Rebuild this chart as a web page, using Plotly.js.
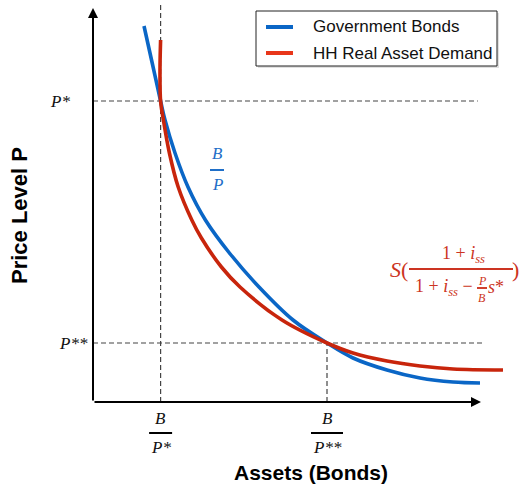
<!DOCTYPE html>
<html>
<head>
<meta charset="utf-8">
<script src="https://cdn.plot.ly/plotly-3.0.1.min.js"></script>
<style>
  html, body { margin: 0; padding: 0; background: #fff; }
  #chart { width: 521px; height: 484px; }
</style>
</head>
<body>
<div id="chart"></div>
<script>
// Government bond supply B/P against the price level
const bondsAssets = [1.275, 1.48, 1.69, 1.80, 2.05, 2.375, 2.81, 3.41, 4.15, 5.00, 5.85, 6.50, 7.35, 8.175, 9.00, 9.675];
const bondsPrice  = [9.40, 8.475, 7.525, 7.05, 6.225, 5.375, 4.55, 3.725, 2.875, 2.05, 1.475, 1.10, 0.80, 0.60, 0.50, 0.475];

// Household real asset demand
const demandAssets = [1.69, 1.675, 1.69, 1.76, 1.91, 2.13, 2.47, 2.71, 3.21, 3.675, 4.725, 5.85, 6.50, 7.35, 8.175, 9.00, 10.25];
const demandPrice  = [9.05, 8.30, 7.525, 7.05, 6.225, 5.375, 4.55, 4.10, 3.375, 2.875, 2.05, 1.475, 1.225, 1.025, 0.90, 0.825, 0.80];

const seriesNames = ['Government Bonds', 'HH Real Asset Demand'];

// Equilibria: price levels and the matching real bond holdings B/P
const priceLevels = [7.525, 1.475];
const priceLabels = ['P*', 'P**'];
const assetLevels = [1.69, 5.85];
const assetDenoms = ['P*', 'P**'];

const SANS  = '"Liberation Sans", Arial, Helvetica, sans-serif';
const SERIF = '"Liberation Serif", "Times New Roman", Times, serif';
const BLUE = '#0a66c6';
const RED  = '#c8250c';
const BLUE_TXT = '#1f6fc8';
const RED_TXT  = '#cc3422';
const GUIDE = '#444444';

// plot frame in pixels (40 px per data unit on both axes)
const W = 521, H = 484, UNIT = 40;
const M = {l: 93, r: 5, t: 5, b: 82};
const pw = W - M.l - M.r, ph = H - M.t - M.b;
const XMAX = pw / UNIT, YMAX = ph / UNIT;
const px = p => (p - M.l) / pw;            // pixel column -> paper x
const py = p => (H - M.b - p) / ph;        // pixel row -> paper y
const du = p => p / UNIT;                  // pixel length -> data length
const dx = p => (p - M.l) / UNIT;          // pixel column -> data x
const dy = p => (H - M.b - p) / UNIT;      // pixel row -> data y

const traces = [
  {x: bondsAssets, y: bondsPrice, name: seriesNames[0], mode: 'lines',
   line: {color: BLUE, width: 3.6, shape: 'spline', smoothing: 1}},
  {x: demandAssets, y: demandPrice, name: seriesNames[1], mode: 'lines',
   line: {color: RED, width: 3.6, shape: 'spline', smoothing: 1}}
];

const shapes = [];
const annotations = [];
const dash = '5px,3px';

// dashed guides at the equilibria
const hEnds = [9.62, 9.75];
priceLevels.forEach((p, i) => {
  shapes.push({type: 'line', xref: 'x', yref: 'y', x0: 0, x1: hEnds[i], y0: p, y1: p,
               line: {color: GUIDE, width: 1.2, dash: dash}, layer: 'below'});
});
shapes.push({type: 'line', xref: 'x', yref: 'y', x0: assetLevels[0], x1: assetLevels[0], y0: 0, y1: YMAX,
             line: {color: GUIDE, width: 1.2, dash: dash}, layer: 'below'});
shapes.push({type: 'line', xref: 'x', yref: 'y', x0: assetLevels[1], x1: assetLevels[1], y0: 0, y1: priceLevels[1],
             line: {color: GUIDE, width: 1.2, dash: dash}, layer: 'below'});

// axes with arrowheads
annotations.push({xref: 'x', yref: 'y', axref: 'x', ayref: 'y', x: 0, y: 9.85, ax: 0, ay: 0,
                  text: '', showarrow: true, arrowhead: 2, arrowsize: 1, arrowwidth: 2, arrowcolor: '#000'});
annotations.push({xref: 'x', yref: 'y', axref: 'x', ayref: 'y', x: 9.7, y: 0, ax: 0, ay: 0,
                  text: '', showarrow: true, arrowhead: 2, arrowsize: 1, arrowwidth: 2, arrowcolor: '#000'});

// price level labels on the vertical axis
const pShift = [-21, -3];
priceLevels.forEach((p, i) => {
  annotations.push({xref: 'x', yref: 'y', x: 0, y: p, xanchor: 'right', yanchor: 'middle', xshift: pShift[i],
                    text: '<i>' + priceLabels[i] + '</i>', showarrow: false,
                    font: {family: SERIF, size: 17, color: '#111'}});
});

// B / P labels on the horizontal axis
const barHalf = [11.5, 16];
assetLevels.forEach((a, i) => {
  annotations.push({xref: 'x', yref: 'y', x: a, y: 0, yanchor: 'middle', yshift: -16,
                    text: '<i>B</i>', showarrow: false, font: {family: SERIF, size: 17, color: '#111'}});
  annotations.push({xref: 'x', yref: 'y', x: a, y: 0, yanchor: 'middle', yshift: -45,
                    text: '<i>' + assetDenoms[i] + '</i>', showarrow: false, font: {family: SERIF, size: 17, color: '#111'}});
  shapes.push({type: 'line', xref: 'x', yref: 'paper', x0: a - du(barHalf[i]), x1: a + du(barHalf[i]),
               y0: py(433), y1: py(433), line: {color: '#000', width: 2}});
});

// text placed in pixel terms around an anchor point
const label = (cx, cy, text, ox, oy, size, color, xanchor) => annotations.push({
  xref: 'paper', yref: 'paper', x: px(cx + ox), y: py(cy + oy), text: text, showarrow: false,
  xanchor: xanchor || 'center', yanchor: 'middle', font: {family: SERIF, size: size, color: color}});
// fraction bar inside the plot: a short horizontal line trace plus a matching shape
const fracBar = (cx, cy, ox0, ox1, oy, color, w) => {
  traces.push({x: [dx(cx + ox0), dx(cx + ox1)], y: [dy(cy + oy), dy(cy + oy)], mode: 'lines',
               showlegend: false, hoverinfo: 'skip', line: {color: color, width: w}});
  shapes.push({type: 'line', xref: 'x', yref: 'paper', x0: dx(cx + ox0), x1: dx(cx + ox1),
               y0: py(cy + oy), y1: py(cy + oy), line: {color: color, width: w}});
};

// B/P label beside the bond curve
const bp = [217, 170];
label(bp[0], bp[1], '<i>B</i>', 0, -17, 17, BLUE_TXT);
label(bp[0], bp[1], '<i>P</i>', 0, 14, 17, BLUE_TXT);
fracBar(bp[0], bp[1], -7, 7, 0, BLUE_TXT, 2);

// savings function label beside the demand curve
const fs = [461, 269];
label(fs[0], fs[1], '<i>S</i>(', -51, 0, 22, RED_TXT, 'right');
label(fs[0], fs[1], '1 + <i>i</i><sub><i>ss</i></sub>', 2, -14, 18, RED_TXT);
label(fs[0], fs[1], '1 + <i>i</i><sub><i>ss</i></sub> −', 14, 18, 18, RED_TXT, 'right');
label(fs[0], fs[1], '<i>P</i>', 21, 12, 12, RED_TXT);
label(fs[0], fs[1], '<i>B</i>', 21, 29, 12, RED_TXT);
label(fs[0], fs[1], '<i>s</i>*', 25, 18, 18, RED_TXT, 'left');
label(fs[0], fs[1], ')', 54, 0, 22, RED_TXT);
fracBar(fs[0], fs[1], -52, 52, 0, RED_TXT, 2);
fracBar(fs[0], fs[1], 16, 26, 19, RED_TXT, 1.5);

// legend box
const legColors = [BLUE, '#e8361a'];
const legRows = [27, 53];
shapes.push({type: 'rect', xref: 'paper', yref: 'paper', x0: px(258), x1: px(499), y0: py(68), y1: py(13),
             line: {width: 0}, fillcolor: 'rgba(0,0,0,0.12)', layer: 'above'});
shapes.push({type: 'rect', xref: 'paper', yref: 'paper', x0: px(256), x1: px(497), y0: py(66), y1: py(11),
             line: {color: '#222', width: 1}, fillcolor: '#fff', layer: 'above'});
seriesNames.forEach((name, i) => {
  shapes.push({type: 'line', xref: 'paper', yref: 'paper', x0: px(266), x1: px(293),
               y0: py(legRows[i]), y1: py(legRows[i]), line: {color: legColors[i], width: 4}, layer: 'above'});
  annotations.push({xref: 'paper', yref: 'paper', x: px(311), y: py(legRows[i]), xanchor: 'left', yanchor: 'middle',
                    text: name, showarrow: false, font: {family: SANS, size: 17, color: '#111'}});
});

// axis titles
annotations.push({xref: 'paper', yref: 'paper', x: px(311), y: py(472), xanchor: 'center', yanchor: 'middle',
                  text: '<b>Assets (Bonds)</b>', showarrow: false, font: {family: SANS, size: 21, color: '#000'}});
annotations.push({xref: 'paper', yref: 'paper', x: px(19), y: py(216), xanchor: 'center', yanchor: 'middle',
                  textangle: -90, text: '<b>Price Level P</b>', showarrow: false, font: {family: SANS, size: 22, color: '#000'}});

const layout = {
  width: W, height: H,
  margin: M,
  paper_bgcolor: '#fff', plot_bgcolor: '#fff',
  xaxis: {range: [0, XMAX], visible: false, fixedrange: true},
  yaxis: {range: [0, YMAX], visible: false, fixedrange: true},
  showlegend: false,
  shapes: shapes,
  annotations: annotations,
  hovermode: false
};

Plotly.newPlot('chart', traces, layout, {staticPlot: true, displayModeBar: false});
</script>
</body>
</html>
